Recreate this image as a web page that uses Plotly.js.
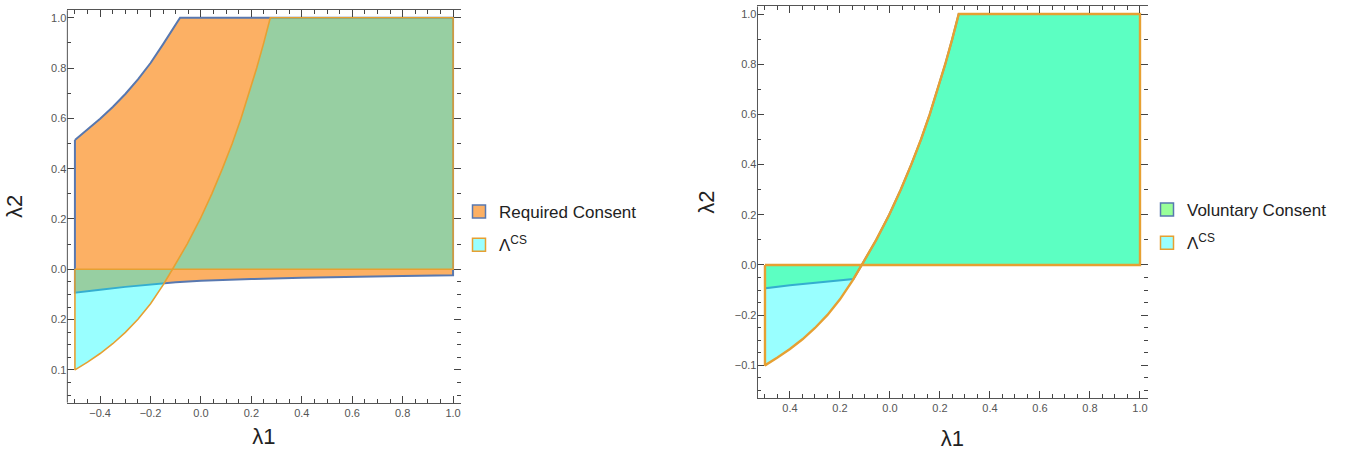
<!DOCTYPE html>
<html><head><meta charset="utf-8">
<script src="https://cdn.plot.ly/plotly-3.0.1.min.js"></script>
<style>html,body{margin:0;padding:0;background:#fff}#chart{width:1350px;height:453px}</style>
</head><body><div id="chart"></div>
<script>
// ---- data ----
const xMin = -0.5, xMax = 1.0, yMax = 1.0, yZero = 0.0;
// boundary of Λ^CS (orange curve)
const lamX = [-0.5, -0.45, -0.4, -0.35, -0.3, -0.25, -0.2, -0.15, -0.113, -0.055, -0.003, 0.043, 0.085, 0.124, 0.159, 0.191, 0.221, 0.249, 0.275];
const lamY = [-0.4, -0.369, -0.335, -0.296, -0.251, -0.199, -0.137, -0.062, 0.0, 0.1, 0.2, 0.3, 0.4, 0.5, 0.6, 0.7, 0.8, 0.9, 1.0];
// upper boundary of Required Consent (blue curve)
const reqTopX = [-0.5, -0.45, -0.4, -0.35, -0.3, -0.25, -0.2, -0.15, -0.116, -0.083];
const reqTopY = [0.514, 0.555, 0.598, 0.645, 0.697, 0.755, 0.82, 0.895, 0.947, 1.0];
// lower boundary (blue curve)
const lowX = [-0.5, -0.4, -0.3, -0.2, -0.1, 0.0, 0.1, 0.2, 0.4, 0.6, 0.8, 1.0];
const lowY = [-0.093, -0.081, -0.07, -0.06, -0.052, -0.046, -0.042, -0.039, -0.034, -0.030, -0.027, -0.024];
// tick labels
const xTickVals = [-0.4, -0.2, 0.0, 0.2, 0.4, 0.6, 0.8, 1.0];
const leftXTickText = ['\u22120.4', '\u22120.2', '0.0', '0.2', '0.4', '0.6', '0.8', '1.0'];
const rightXTickText = ['0.4', '0.2', '0.0', '0.2', '0.4', '0.6', '0.8', '1.0'];
const yTickVals = [-0.4, -0.2, 0.0, 0.2, 0.4, 0.6, 0.8, 1.0];
const leftYTickText = ['0.1', '0.2', '0.0', '0.2', '0.4', '0.6', '0.8', '1.0'];
const rightYTickText = ['\u22120.1', '\u22120.2', '0.0', '0.2', '0.4', '0.6', '0.8', '1.0'];
const xMinorVals = [-0.5,-0.45,-0.35,-0.3,-0.25,-0.15,-0.1,-0.05,0.05,0.1,0.15,0.25,0.3,0.35,0.45,0.5,0.55,0.65,0.7,0.75,0.85,0.9,0.95];
const yMinorVals = [-0.5,-0.45,-0.35,-0.3,-0.25,-0.15,-0.1,-0.05,0.1,0.3,0.5,0.7,0.9];
const legendNames = {req: 'Required Consent', vol: 'Voluntary Consent', lam: '\u039b<sup>CS</sup>'};

// ---- colours ----
const C = {
  reqFill: '#FCB064', blue: '#5878B0', orange: '#E6A032',
  lamFill: 'rgba(0,255,255,0.4)', volFill: 'rgba(0,255,0,0.4)',
  lamSwatch: '#99FFFF', volSwatch: '#99FF99'
};

// ---- geometry helpers ----
function interp(xs, ys, x) {
  for (let i = 0; i < xs.length - 1; i++) {
    if (x >= xs[i] && x <= xs[i + 1]) {
      const t = (x - xs[i]) / (xs[i + 1] - xs[i]);
      return ys[i] + t * (ys[i + 1] - ys[i]);
    }
  }
  return x < xs[0] ? ys[0] : ys[ys.length - 1];
}
const iz = lamY.indexOf(0);
// Λ^CS left piece (below zero) and right piece (above zero)
const lamLeft = {x: [xMin].concat(lamX.slice(0, iz + 1)), y: [yZero].concat(lamY.slice(0, iz + 1))};
lamLeft.x.push(xMin); lamLeft.y.push(yZero);
const lamRight = {x: lamX.slice(iz).concat([xMax, xMax, lamX[iz]]), y: lamY.slice(iz).concat([yMax, yZero, yZero])};
// Required consent polygon
const reqPoly = {
  x: reqTopX.concat([xMax, xMax]).concat(lowX.slice().reverse()).concat([reqTopX[0]]),
  y: reqTopY.concat([yMax, lowY[lowY.length - 1]]).concat(lowY.slice().reverse()).concat([reqTopY[0]])
};
// intersection of Λ boundary with the lower boundary
let xi = lamX[0], yi = lamY[0], ki = 0;
for (let i = 0; i < iz; i++) {
  const d0 = lamY[i] - interp(lowX, lowY, lamX[i]);
  const d1 = lamY[i + 1] - interp(lowX, lowY, lamX[i + 1]);
  if (d0 <= 0 && d1 > 0) {
    const t = -d0 / (d1 - d0);
    xi = lamX[i] + t * (lamX[i + 1] - lamX[i]);
    yi = lamY[i] + t * (lamY[i + 1] - lamY[i]);
    ki = i + 1; break;
  }
}
// Voluntary consent left piece
const volLeft = {x: [xMin], y: [yZero]};
lowX.forEach((x, j) => { if (x < xi) { volLeft.x.push(x); volLeft.y.push(lowY[j]); } });
volLeft.x.push(xi); volLeft.y.push(yi);
for (let i = ki; i <= iz; i++) { volLeft.x.push(lamX[i]); volLeft.y.push(lamY[i]); }
volLeft.x.push(xMin); volLeft.y.push(yZero);

function poly(p, xa, ya, fill, lineColor, lw) {
  return {type: 'scatter', mode: 'lines', x: p.x, y: p.y, xaxis: xa, yaxis: ya, fill: 'toself',
    fillcolor: fill, line: {color: lineColor, width: lw}, showlegend: false, hoverinfo: 'skip'};
}
function legendItem(name, fill, border, legend, group) {
  return {type: 'scatter', mode: 'markers', x: [null], y: [null], name: name, legend: legend, legendgroup: group,
    marker: {symbol: 'square', size: 13, color: fill, line: {color: border, width: 1.5}}, hoverinfo: 'skip'};
}

const traces = [
  poly(reqPoly, 'x', 'y', C.reqFill, C.blue, 2),
  poly(lamLeft, 'x', 'y', C.lamFill, C.orange, 1.6),
  poly(lamRight, 'x', 'y', C.lamFill, C.orange, 1.6),
  poly(volLeft, 'x2', 'y2', C.volFill, C.blue, 2),
  poly(lamRight, 'x2', 'y2', C.volFill, C.blue, 2),
  poly(lamLeft, 'x2', 'y2', C.lamFill, C.orange, 2.4),
  poly(lamRight, 'x2', 'y2', C.lamFill, C.orange, 2.4),
  legendItem(legendNames.req, C.reqFill, C.blue, 'legend', 'a'),
  legendItem(legendNames.lam, C.lamSwatch, C.orange, 'legend', 'b'),
  legendItem(legendNames.vol, C.volSwatch, C.blue, 'legend2', 'c'),
  legendItem(legendNames.lam, C.lamSwatch, C.orange, 'legend2', 'd')
];

const FONT = 'Liberation Sans, Arial, sans-serif';
const tickFont = {family: FONT, size: 11, color: '#555'};
function xAxis(domain, anchor, ticktext, standoff) {
  return {domain: domain, anchor: anchor, range: [-0.53, 1.03], tickmode: 'array', tickvals: xTickVals, ticktext: ticktext,
    ticks: 'inside', ticklen: 7, tickwidth: 1, tickcolor: '#444', showline: true, linecolor: '#555', linewidth: 1,
    mirror: 'ticks', showgrid: false, zeroline: false, tickfont: tickFont,
    minor: {tickvals: xMinorVals, ticks: 'inside', ticklen: 4, tickwidth: 1, tickcolor: '#444', showgrid: false},
    title: {text: '\u03bb1', font: {family: FONT, size: 22, color: '#222'}, standoff: standoff}, automargin: false};
}
function yAxis(domain, anchor, ticktext, standoff) {
  return {domain: domain, anchor: anchor, range: [-0.53, 1.03], tickmode: 'array', tickvals: yTickVals, ticktext: ticktext,
    ticks: 'inside', ticklen: 7, tickwidth: 1, tickcolor: '#444', showline: false, mirror: 'ticks',
    showgrid: false, zeroline: false, tickfont: tickFont,
    minor: {tickvals: yMinorVals, ticks: 'inside', ticklen: 4, tickwidth: 1, tickcolor: '#444', showgrid: false},
    title: {text: '\u03bb2', font: {family: FONT, size: 22, color: '#222'}, standoff: standoff}, automargin: false};
}

const layout = {
  width: 1350, height: 453, margin: {l: 0, r: 0, t: 0, b: 0},
  paper_bgcolor: '#fff', plot_bgcolor: '#fff',
  font: {family: FONT, color: '#222'},
  xaxis: xAxis([0.0499, 0.3412], 'y', leftXTickText, 10),
  yaxis: yAxis([0.1113, 0.9775], 'x', leftYTickText, 22),
  xaxis2: xAxis([0.5611, 0.85], 'y2', rightXTickText, 17),
  yaxis2: yAxis([0.1214, 0.9857], 'x2', rightYTickText, 14),
  shapes: [
    {type: 'line', xref: 'x domain', yref: 'y domain', x0: 0, x1: 0, y0: 0, y1: 1, line: {color: '#555', width: 1}},
    {type: 'line', xref: 'x2 domain', yref: 'y2 domain', x0: 0, x1: 0, y0: 0, y1: 1, line: {color: '#555', width: 1}}
  ],
  legend: {x: 459 / 1350, xanchor: 'left', y: 1 - 194 / 453, yanchor: 'top', font: {family: FONT, size: 17, color: '#222'},
    bgcolor: 'rgba(0,0,0,0)', tracegroupgap: 8, traceorder: 'grouped'},
  legend2: {x: 1147 / 1350, xanchor: 'left', y: 1 - 192 / 453, yanchor: 'top', font: {family: FONT, size: 17, color: '#222'},
    bgcolor: 'rgba(0,0,0,0)', tracegroupgap: 8, traceorder: 'grouped'}
};

Plotly.newPlot('chart', traces, layout, {displayModeBar: false, staticPlot: true});
</script>
</body></html>
